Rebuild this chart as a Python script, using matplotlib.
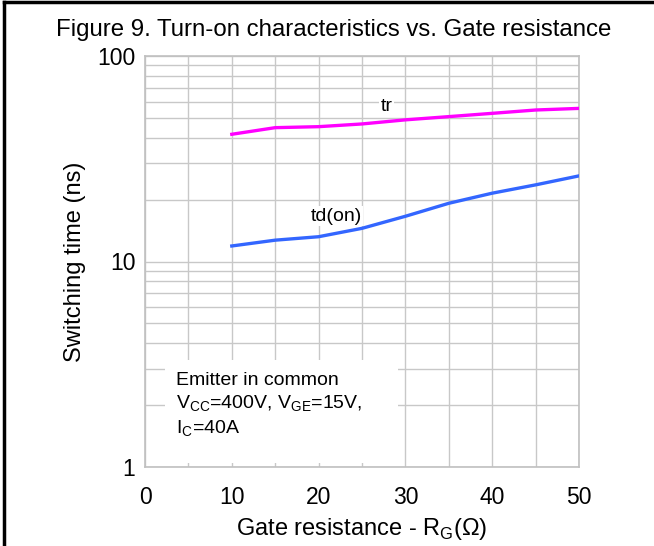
import numpy as np
import matplotlib
matplotlib.use("Agg")
import matplotlib.pyplot as plt
from matplotlib.lines import Line2D
from matplotlib.patches import Rectangle
from matplotlib.ticker import FixedLocator, NullFormatter

plt.rcParams['font.family'] = ['Liberation Sans', 'DejaVu Sans']

# Gate resistance (ohm)
rg = [10, 15, 20, 25, 30, 35, 40, 45, 50]
# Rise time tr (ns)
tr = [41.6, 44.8, 45.3, 46.7, 48.9, 50.7, 52.6, 54.6, 55.6]
# Turn-on delay td(on) (ns)
td_on = [11.9, 12.7, 13.2, 14.5, 16.6, 19.2, 21.5, 23.6, 26.1]

x_ticks = [0, 10, 20, 30, 40, 50]
y_ticks = [1, 10, 100]
y_tick_labels = ["1", "10", "100"]

fig = plt.figure(figsize=(6.54, 5.46), dpi=100)
ax = fig.add_axes([145 / 654, 1 - 467 / 546, 434 / 654, 411 / 546])

# frame lines of the figure (top and left only)
fig.add_artist(Line2D([4 / 654, 4 / 654], [0, 1 - 2 / 546], color="black", lw=2.5,
                      transform=fig.transFigure))
fig.add_artist(Line2D([4 / 654, 1], [1 - 2 / 546, 1 - 2 / 546], color="black", lw=2.5,
                      transform=fig.transFigure))

ax.set_yscale("log")
ax.set_xlim(0, 50)
ax.set_ylim(1, 100)

ax.xaxis.set_major_locator(FixedLocator(x_ticks))
ax.xaxis.set_minor_locator(FixedLocator([5, 15, 25, 35, 45]))
ax.yaxis.set_major_locator(FixedLocator(y_ticks))
ax.set_yticklabels(y_tick_labels)
ax.yaxis.set_minor_formatter(NullFormatter())

ax.grid(True, which="both", color="#c8c8c8", lw=1.0)
ax.tick_params(which="both", length=0, labelsize=16.5)
ax.tick_params(axis="x", pad=14)
ax.tick_params(axis="y", pad=7)
for s in ax.spines.values():
    s.set_color("#c0c0c0")
    s.set_linewidth(1.2)
ax.set_axisbelow(True)

ax.plot(rg, tr, color="#ff00ff", lw=2.4, zorder=3)
ax.plot(rg, td_on, color="#3366ff", lw=2.4, zorder=3)

ax.text(27.8, 56.5, "tr", fontsize=14, ha="center", va="center",
        bbox=dict(facecolor="white", edgecolor="none", pad=1))
ax.text(22, 16.6, "td(on)", fontsize=14, ha="center", va="center",
        bbox=dict(facecolor="white", edgecolor="none", pad=1))

# white condition box
ax.add_patch(Rectangle((2.3, 1.046), 26.8, 3.32 - 1.046, facecolor="white",
                       edgecolor="none", zorder=2))
ax.text(3.57, 2.90, "Emitter in common\n"
        "V$_{\\mathregular{CC}}$=400V, V$_{\\mathregular{GE}}$=15V,\n"
        "I$_{\\mathregular{C}}$=40A",
        fontsize=14, ha="left", va="top", linespacing=1.3, zorder=4)

ax.set_xlabel("Gate resistance - R$_{\\mathregular{G}}$(Ω)", fontsize=17, labelpad=5)
ax.set_ylabel("Switching time (ns)", fontsize=17, labelpad=8)
fig.text(334 / 654, 1 - 30 / 546, "Figure 9. Turn-on characteristics vs. Gate resistance",
         fontsize=17.3, ha="center", va="center")

fig.savefig("out.png", dpi=100)
